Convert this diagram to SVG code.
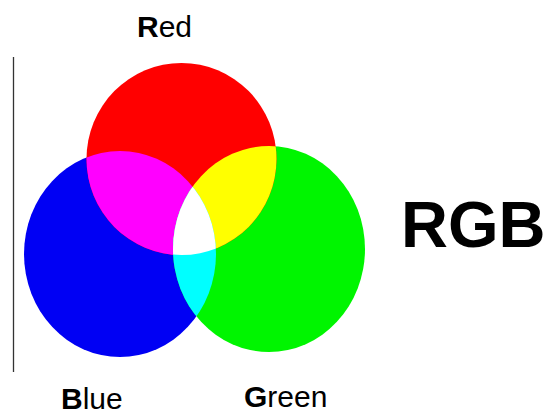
<svg xmlns="http://www.w3.org/2000/svg" width="550" height="415" viewBox="0 0 550 415">
<style>
.lbl{font-family:"Liberation Sans",Arial,sans-serif;font-size:30px;fill:#000}
.b{font-weight:bold}
.big{font-family:"Liberation Sans",Arial,sans-serif;font-size:65px;font-weight:bold;fill:#000}
</style>
<defs>
<clipPath id="cR"><ellipse cx="181.5" cy="159" rx="95" ry="96"/></clipPath>
<clipPath id="cB"><ellipse cx="120" cy="254" rx="96" ry="103"/></clipPath>
<clipPath id="cG"><ellipse cx="269" cy="249" rx="96" ry="103"/></clipPath>
</defs>
<rect width="550" height="415" fill="#fff"/>
<g id="axis"><line x1="13.5" y1="57" x2="13.5" y2="372" stroke="#333" stroke-width="1.3"/></g>
<g id="blue">
<ellipse cx="120" cy="254" rx="96" ry="103" fill="#0000f4"/>
<text class="lbl" x="61" y="409"><tspan class="b">B</tspan>lue</text>
</g>
<g id="green">
<ellipse cx="269" cy="249" rx="96" ry="103" fill="#00f500"/>
<text class="lbl" x="244" y="407"><tspan class="b">G</tspan>reen</text>
</g>
<g id="red">
<ellipse cx="181.5" cy="159" rx="95" ry="96" fill="#ff0000"/>
<text class="lbl" x="137" y="37"><tspan class="b">R</tspan>ed</text>
</g>
<g id="overlaps">
<ellipse cx="181.5" cy="159" rx="95" ry="96" fill="#ff00ff" clip-path="url(#cB)"/>
<ellipse cx="181.5" cy="159" rx="95" ry="96" fill="#ffff00" clip-path="url(#cG)"/>
<ellipse cx="120" cy="254" rx="96" ry="103" fill="#00ffff" clip-path="url(#cG)"/>
<g clip-path="url(#cG)"><g clip-path="url(#cB)"><ellipse cx="181.5" cy="159" rx="95" ry="96" fill="#ffffff"/></g></g>
</g>
<g id="title"><text class="big" x="401" y="247">RGB</text></g>
</svg>
